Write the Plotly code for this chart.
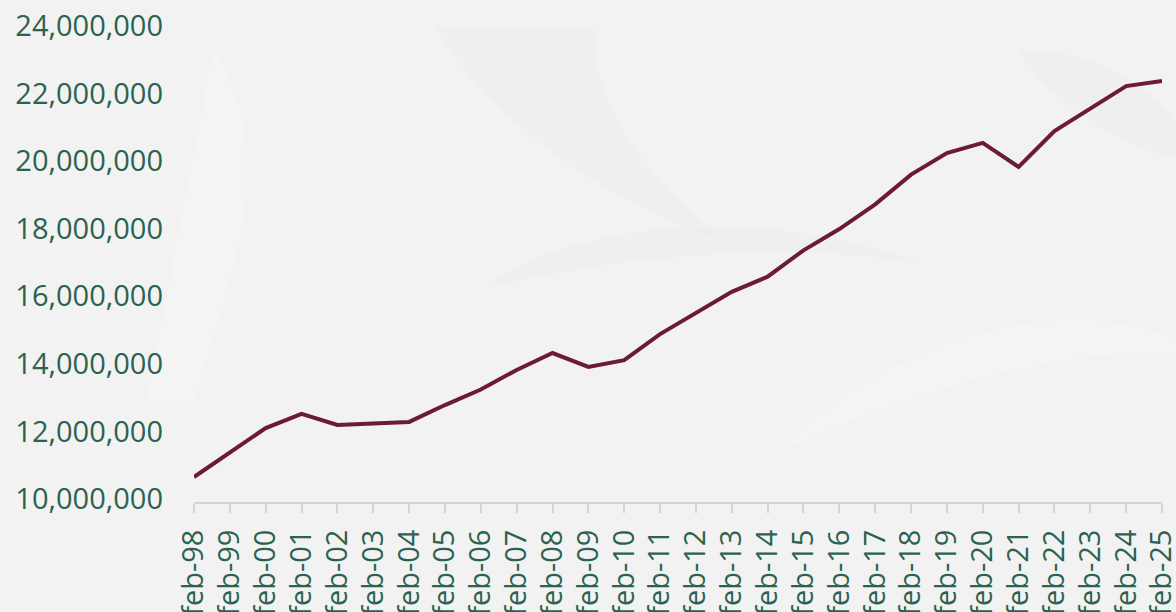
import plotly.graph_objects as go

labels = ["feb-98", "feb-99", "feb-00", "feb-01", "feb-02", "feb-03", "feb-04", "feb-05",
          "feb-06", "feb-07", "feb-08", "feb-09", "feb-10", "feb-11", "feb-12", "feb-13",
          "feb-14", "feb-15", "feb-16", "feb-17", "feb-18", "feb-19", "feb-20", "feb-21",
          "feb-22", "feb-23", "feb-24", "feb-25"]
values = [10650000, 11390000, 12100000, 12520000, 12190000, 12230000, 12280000, 12780000,
          13240000, 13820000, 14320000, 13910000, 14110000, 14880000, 15500000, 16130000,
          16580000, 17360000, 17990000, 18720000, 19600000, 20240000, 20540000, 19830000,
          20890000, 21570000, 22220000, 22370000]
y_ticks = [10000000, 12000000, 14000000, 16000000, 18000000, 20000000, 22000000, 24000000]

xs = list(range(len(labels)))

fig = go.Figure()
fig.add_trace(go.Scatter(x=xs, y=values, mode="lines",
                         line=dict(color="#6c1a35", width=4), hoverinfo="skip"))

# very faint watermark swirls
shapes = []
wm = [
    ("M 0.02 0.95 C 0.10 0.70, 0.02 0.40, 0.00 0.20 L -0.05 0.2 Z", "rgba(255,255,255,0.18)"),
    ("M 0.25 1.0 C 0.30 0.80, 0.45 0.60, 0.55 0.55 C 0.45 0.70, 0.40 0.90, 0.42 1.0 Z", "rgba(225,225,225,0.18)"),
    ("M 0.30 0.45 C 0.40 0.60, 0.60 0.62, 0.75 0.50 C 0.62 0.55, 0.45 0.52, 0.30 0.45 Z", "rgba(225,225,225,0.18)"),
    ("M 0.60 0.10 C 0.75 0.25, 0.95 0.35, 1.05 0.30 C 0.95 0.45, 0.75 0.40, 0.60 0.10 Z", "rgba(255,255,255,0.2)"),
    ("M 0.85 0.95 C 0.90 0.80, 1.00 0.70, 1.05 0.72 C 1.0 0.85, 0.95 0.95, 0.85 0.95 Z", "rgba(228,228,228,0.18)"),
]
for p, c in wm:
    shapes.append(dict(type="path", path=p, xref="paper", yref="paper",
                       fillcolor=c, line=dict(width=0), layer="below"))

fig.update_layout(
    width=1176, height=612,
    margin=dict(l=194, r=14, t=26, b=110, autoexpand=False),
    paper_bgcolor="#f2f2f2", plot_bgcolor="rgba(0,0,0,0)",
    showlegend=False,
    font=dict(family="Open Sans", size=29, color="#2b6250"),
    shapes=shapes,
    xaxis=dict(
        range=[0, len(labels) - 1], tickmode="array", tickvals=xs, ticktext=labels,
        tickangle=-90, showgrid=False, zeroline=False, automargin=False,
        showline=True, linecolor="#d4d4d4", linewidth=2,
        ticks="outside", ticklen=9, tickwidth=2, tickcolor="#d4d4d4",
        ticklabelstandoff=5, ticklabeloverflow="allow",
        tickfont=dict(family="Open Sans", size=29, color="#2b6250"),
    ),
    yaxis=dict(
        range=[9910000, 24000000], tickmode="array", tickvals=y_ticks,
        ticktext=[f"{v:,}" for v in y_ticks], automargin=False,
        showgrid=False, zeroline=False, showline=False, ticks="",
        ticklabelstandoff=30, ticklabeloverflow="allow",
        tickfont=dict(family="Open Sans", size=29, color="#2b6250"),
    ),
)

fig.write_html("out.html", config={"displayModeBar": False},
               post_script="document.body.style.margin='0';document.body.style.overflow='hidden';")
